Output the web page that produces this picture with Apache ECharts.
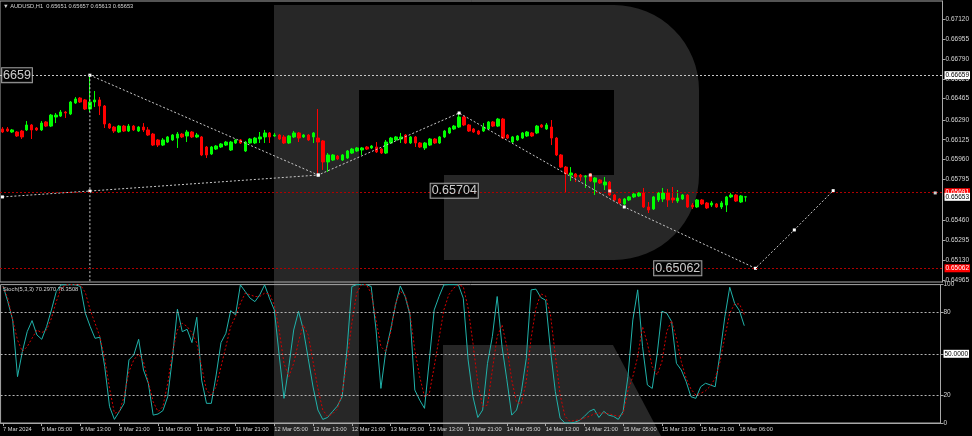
<!DOCTYPE html>
<html>
<head>
<meta charset="utf-8">
<script src="https://cdn.jsdelivr.net/npm/echarts@6/dist/echarts.min.js"></script>
<style>
html,body{margin:0;padding:0;background:#000;}
#chart{width:972px;height:436px;}
</style>
</head>
<body>
<div id="chart"></div>
<script>
// ---------- data ----------
const tickLabels = ['7 Mar 2024','8 Mar 05:00','8 Mar 13:00','8 Mar 21:00','11 Mar 05:00','11 Mar 13:00','11 Mar 21:00','12 Mar 05:00','12 Mar 13:00','12 Mar 21:00','13 Mar 05:00','13 Mar 13:00','13 Mar 21:00','14 Mar 05:00','14 Mar 13:00','14 Mar 21:00','15 Mar 05:00','15 Mar 13:00','15 Mar 21:00','18 Mar 06:00'];
const slotCount = 194;
const priceTicks = [0.64965,0.65130,0.65295,0.65460,0.65795,0.65960,0.66125,0.66290,0.66465,0.66625,0.66790,0.66955,0.67120];
const stochTicks = [0,20,50,80,100];

const opens = [0.66214,0.66214,0.66189,0.66189,0.66197,0.66206,0.66247,0.66222,0.66206,0.66272,0.66238,0.66313,0.66321,0.66354,0.66338,0.66429,0.66470,0.66454,0.66379,0.66437,0.66454,0.66404,0.66255,0.66230,0.66189,0.66238,0.66197,0.66238,0.66197,0.66230,0.66206,0.66172,0.66123,0.66081,0.66106,0.66123,0.66139,0.66172,0.66156,0.66189,0.66148,0.66148,0.66065,0.66007,0.66048,0.66065,0.66081,0.66040,0.66098,0.66123,0.66032,0.66098,0.66098,0.66131,0.66148,0.66181,0.66156,0.66164,0.66148,0.66098,0.66148,0.66181,0.66148,0.66164,0.66148,0.66139,0.66115,0.65941,0.65957,0.65990,0.65957,0.65974,0.66015,0.66032,0.66040,0.66065,0.66057,0.66065,0.66048,0.66015,0.66098,0.66123,0.66131,0.66164,0.66098,0.66148,0.66098,0.66057,0.66081,0.66131,0.66098,0.66148,0.66181,0.66214,0.66230,0.66313,0.66247,0.66214,0.66197,0.66197,0.66214,0.66272,0.66238,0.66296,0.66164,0.66106,0.66123,0.66139,0.66156,0.66181,0.66181,0.66247,0.66214,0.66230,0.66139,0.65999,0.65899,0.65833,0.65842,0.65833,0.65817,0.65842,0.65775,0.65792,0.65751,0.65775,0.65668,0.65635,0.65594,0.65627,0.65652,0.65660,0.65685,0.65569,0.65552,0.65627,0.65635,0.65685,0.65643,0.65618,0.65635,0.65668,0.65585,0.65569,0.65627,0.65602,0.65585,0.65594,0.65569,0.65585,0.65652,0.65668,0.65610,0.65651];
const closes = [0.66189,0.66197,0.66206,0.66156,0.66148,0.66247,0.66206,0.66206,0.66263,0.66238,0.66329,0.66329,0.66354,0.66346,0.66437,0.66462,0.66437,0.66379,0.66437,0.66454,0.66404,0.66255,0.66222,0.66197,0.66238,0.66197,0.66238,0.66206,0.66230,0.66206,0.66164,0.66081,0.66081,0.66123,0.66148,0.66164,0.66172,0.66148,0.66189,0.66148,0.66164,0.65999,0.65999,0.66065,0.66073,0.66090,0.66106,0.66106,0.66123,0.66098,0.66106,0.66131,0.66139,0.66148,0.66181,0.66148,0.66164,0.66131,0.66098,0.66156,0.66181,0.66139,0.66164,0.66123,0.66181,0.66106,0.65941,0.65999,0.65999,0.65966,0.65999,0.66032,0.66048,0.66057,0.66057,0.66048,0.66073,0.66024,0.66015,0.66106,0.66139,0.66148,0.66148,0.66098,0.66148,0.66098,0.66065,0.66098,0.66131,0.66098,0.66148,0.66197,0.66222,0.66238,0.66313,0.66247,0.66197,0.66189,0.66172,0.66230,0.66272,0.66238,0.66296,0.66139,0.66139,0.66148,0.66156,0.66181,0.66189,0.66156,0.66238,0.66230,0.66247,0.66139,0.65999,0.65899,0.65842,0.65850,0.65817,0.65817,0.65825,0.65784,0.65809,0.65767,0.65775,0.65668,0.65627,0.65602,0.65635,0.65652,0.65676,0.65685,0.65569,0.65544,0.65652,0.65685,0.65685,0.65627,0.65627,0.65643,0.65668,0.65569,0.65569,0.65627,0.65594,0.65561,0.65602,0.65569,0.65602,0.65652,0.65668,0.65618,0.65660,0.65653];
const lows = [0.66181,0.66189,0.66181,0.66148,0.66131,0.66197,0.66131,0.66197,0.66197,0.66230,0.66230,0.66263,0.66313,0.66305,0.66329,0.66421,0.66429,0.66371,0.66354,0.66396,0.66329,0.66222,0.66214,0.66181,0.66181,0.66189,0.66189,0.66197,0.66189,0.66189,0.66156,0.66073,0.66065,0.66073,0.66098,0.66115,0.66057,0.66139,0.66106,0.66139,0.66139,0.65990,0.65974,0.65999,0.66040,0.66057,0.66073,0.66032,0.66090,0.66090,0.66024,0.66090,0.66090,0.66098,0.66098,0.66098,0.66148,0.66123,0.66090,0.66090,0.66139,0.66106,0.66139,0.66115,0.66098,0.65833,0.65875,0.65858,0.65949,0.65957,0.65949,0.65966,0.66007,0.66024,0.65999,0.66040,0.66048,0.66015,0.66007,0.66007,0.66090,0.66115,0.66098,0.66090,0.66090,0.66065,0.66057,0.66040,0.66073,0.66090,0.66090,0.66139,0.66172,0.66206,0.66222,0.66238,0.66189,0.66181,0.66164,0.66189,0.66206,0.66230,0.66230,0.66131,0.66131,0.66098,0.66115,0.66131,0.66148,0.66148,0.66172,0.66222,0.66206,0.66081,0.65990,0.65891,0.65685,0.65784,0.65775,0.65784,0.65726,0.65775,0.65668,0.65759,0.65709,0.65660,0.65618,0.65594,0.65585,0.65618,0.65643,0.65652,0.65561,0.65519,0.65544,0.65610,0.65610,0.65569,0.65602,0.65602,0.65627,0.65561,0.65552,0.65561,0.65585,0.65552,0.65569,0.65561,0.65552,0.65527,0.65643,0.65610,0.65602,0.65613];
const highs = [0.66230,0.66230,0.66214,0.66197,0.66206,0.66280,0.66255,0.66230,0.66280,0.66280,0.66338,0.66346,0.66371,0.66363,0.66445,0.66478,0.66478,0.66462,0.66659,0.66528,0.66478,0.66412,0.66263,0.66238,0.66247,0.66247,0.66255,0.66247,0.66238,0.66263,0.66230,0.66181,0.66131,0.66139,0.66156,0.66172,0.66189,0.66181,0.66206,0.66197,0.66181,0.66156,0.66073,0.66073,0.66081,0.66098,0.66115,0.66115,0.66131,0.66131,0.66115,0.66139,0.66148,0.66189,0.66206,0.66189,0.66181,0.66172,0.66164,0.66164,0.66197,0.66189,0.66172,0.66172,0.66189,0.66379,0.66123,0.66015,0.66007,0.65999,0.66007,0.66040,0.66057,0.66065,0.66065,0.66073,0.66081,0.66106,0.66057,0.66123,0.66148,0.66156,0.66181,0.66172,0.66156,0.66156,0.66106,0.66106,0.66139,0.66139,0.66156,0.66206,0.66230,0.66247,0.66346,0.66321,0.66255,0.66222,0.66206,0.66263,0.66280,0.66280,0.66305,0.66305,0.66172,0.66156,0.66164,0.66189,0.66197,0.66189,0.66247,0.66255,0.66263,0.66288,0.66148,0.66007,0.65908,0.65899,0.65850,0.65842,0.65833,0.65850,0.65817,0.65800,0.65817,0.65784,0.65676,0.65643,0.65643,0.65660,0.65685,0.65693,0.65726,0.65610,0.65660,0.65693,0.65726,0.65718,0.65734,0.65709,0.65676,0.65676,0.65602,0.65635,0.65635,0.65610,0.65618,0.65602,0.65618,0.65660,0.65685,0.65676,0.65668,0.65657];

const stochK = [99,87.7,74.5,33.5,51.6,66,74,63.6,60.5,69.7,81.7,95,99.8,99.8,100,99.8,98.6,79.3,69.7,61.2,62,40.7,11.8,2.6,8.2,14.2,45.6,49.2,60.5,38.3,28.7,5.7,6.5,8.9,19,48,82.2,66,67.7,58.1,76.4,31,14.2,14.2,34.7,58.1,64.8,81.2,78.1,99.8,95,90.2,87.7,92.6,99.8,90.2,81.7,49.2,17.8,40.7,67.2,80.7,67.2,46.6,26,9.4,2.6,4,8.2,12.2,19,52.8,98.6,100,100,100,98.6,67.2,25,51.6,67.2,85,99,91.4,78.1,23.8,16.6,10.6,45.6,81.7,91.4,99.8,100,100,99.8,90.2,45.6,19,4,9.4,43.1,62.4,91.4,55.2,31.2,5.7,9.4,22.8,46.6,96.2,96.7,90.7,88.7,52.8,22.8,3.4,0,0,0.5,1.9,4.8,8.4,10,4,8.4,5.7,4.8,2.6,8.4,33.6,74.5,96.2,55.2,27.5,25,49.2,80.7,79.3,73.3,43.1,38.3,29.9,19,17.8,26.2,28.7,27.5,26.2,50.4,76.9,98.1,86.5,81.2,70.297];
const stochD = [98.6,90.2,74.5,60,51.6,55.2,61.2,67.2,65.3,67.2,75.7,87.7,97.4,99.8,100,100,99.8,94.2,81.7,72.1,62.4,46.7,25,7,8.2,19,37.1,45.6,49.9,44.3,29.9,15.4,8.2,11.8,28.7,51.6,67.2,72.1,69.7,65.3,57.7,40.7,23.8,20.2,26.2,40.7,55.2,69.7,76.9,86.5,93.8,92.6,91.4,91.4,93.8,93.3,85.3,67.2,43.1,33.5,43.1,58.8,70.9,63.6,44.3,25,9.4,4.8,6.5,10,21.4,44.3,72.1,93.8,100,100,93.8,74.5,55.2,51.6,65,86,95,92.6,79.3,52.8,33.5,19,21.4,40.7,61.2,81.7,92.6,97.4,99.8,98.6,83,57.7,28.7,11.8,13,38.3,62.4,70.9,55.2,31.2,14.9,13.9,29.9,61.2,83,93.3,91.8,78.1,49.2,20.2,4.8,1.2,1.7,2.4,3.6,4.8,6.5,7.2,7.2,6.7,5.7,4.8,6.5,23.8,33.5,48,69.7,57.7,40.7,34.7,44.3,66,74,61.2,44.3,32.4,24.5,20.2,21.4,23.3,26.7,32.4,44.3,62.4,79.3,86,86,78.3508];

// analysis lines (bar index, price)
const zigzagIdx   = [18, 65, 94, 128, 155, 163, 171];
const zigzagPrice = [0.66659, 0.65833, 0.66346, 0.65569, 0.65062, 0.65379, 0.65704];
const trendIdx    = [0, 18, 65];
const trendPrice  = [0.65652, 0.65701, 0.65833];
const vLineIdx    = [18, 18];
const vLinePrice  = [0.66659, 0.64950];
const markIdx     = [121, 125, 192];
const markPrice   = [0.65833, 0.65701, 0.65685];
const boxIdx      = [3, 93, 139];
const boxPrice    = [0.66659, 0.65704, 0.65062];
const boxText     = ['6659', '0.65704', '0.65062'];
const levelHigh = 0.66659, levelMid = 0.65691, levelLow = 0.65062, bidPrice = 0.65653;
const headerText = '\u25BC AUDUSD,H1  0.65651 0.65657 0.65613 0.65653';
const stochText = 'Stoch(5,3,3) 70.2970 78.3508';

// ---------- build ----------
const cats = Array.from({length: slotCount}, (_, i) => String(i));
const candleData = opens.map((o, i) => [o, closes[i], lows[i], highs[i]]);
const pairs = (a, b) => a.map((x, i) => [x, b[i]]);
const showTick = (idx) => idx % 8 === 0 && idx / 8 < tickLabels.length;
const FONT = 'Liberation Sans, DejaVu Sans, sans-serif';
const small = 6.5;
const tiny = 5.7;
const axisCol = '#a8a8a8';
const txtCol = '#d6d6d6';

// watermark "R" outline (decoration)
function arcPts(cx, cy, r, a0, a1, n) {
  const out = [];
  for (let k = 0; k <= n; k++) {
    const a = (a0 + (a1 - a0) * k / n) * Math.PI / 180;
    out.push([cx + r * Math.cos(a), cy + r * Math.sin(a)]);
  }
  return out;
}
const bowl = [[274,5],[614,5]]
  .concat(arcPts(614, 90, 85, -90, 0, 16))
  .concat(arcPts(614, 175, 85, 0, 90, 16))
  .concat([[444,260],[444,175],[614,175],[614,90],[359,90],[359,436],[274,436]]);
const leg = [[443,345],[613,345],[661,436],[443,436]];

const priceLabel = (bg, fg, txt) => ({show: true, position: 'end', distance: 2, backgroundColor: bg, color: fg,
  fontSize: small, padding: [1, 1, 0, 1], fontFamily: FONT, formatter: txt});

const chart = echarts.init(document.getElementById('chart'), null, {renderer: 'canvas'});
const option = {
  backgroundColor: '#000',
  animation: false,
  textStyle: {fontFamily: FONT},
  graphic: [
    {type: 'polygon', z: -100, silent: true, shape: {points: bowl}, style: {fill: '#272727'}},
    {type: 'polygon', z: -100, silent: true, shape: {points: leg}, style: {fill: '#272727'}}
  ],
  title: [
    {text: headerText, left: 3, top: 3, padding: 0, textStyle: {color: txtCol, fontSize: tiny, fontWeight: 'normal', fontFamily: FONT}},
    {text: stochText, left: 3, top: 286, padding: 0, textStyle: {color: txtCol, fontSize: tiny, fontWeight: 'normal', fontFamily: FONT}}
  ],
  grid: [
    {left: -0.94, right: 27.2, top: 1, height: 281, show: true, borderColor: axisCol, borderWidth: 1, backgroundColor: 'transparent'},
    {left: -0.94, right: 27.2, top: 284.6, height: 138.4, show: true, borderColor: axisCol, borderWidth: 1, backgroundColor: 'transparent'}
  ],
  xAxis: [
    {type: 'category', gridIndex: 0, data: cats, boundaryGap: true,
     axisLine: {show: false}, axisTick: {show: false}, axisLabel: {show: false}, splitLine: {show: false}},
    {type: 'category', gridIndex: 1, data: cats, boundaryGap: true,
     axisLine: {show: true, lineStyle: {color: axisCol}},
     axisTick: {show: true, alignWithLabel: true, interval: showTick, length: 3, lineStyle: {color: axisCol}},
     axisLabel: {interval: showTick, formatter: (v, idx) => tickLabels[idx / 8], align: 'left',
                 color: txtCol, fontSize: tiny, margin: 3, fontFamily: FONT},
     splitLine: {show: false}}
  ],
  yAxis: [
    {type: 'value', gridIndex: 0, position: 'right', min: 0.649485, max: 0.672723,
     axisLine: {show: true, lineStyle: {color: axisCol}},
     axisTick: {show: true, length: 3, customValues: priceTicks, lineStyle: {color: axisCol}},
     axisLabel: {customValues: priceTicks, formatter: v => v.toFixed(5), color: txtCol, fontSize: small, margin: 3, fontFamily: FONT},
     splitLine: {show: false}},
    {type: 'value', gridIndex: 1, position: 'right', min: 0, max: 100,
     axisLine: {show: true, lineStyle: {color: axisCol}},
     axisTick: {show: true, length: 3, customValues: stochTicks, lineStyle: {color: axisCol}},
     axisLabel: {customValues: stochTicks, color: txtCol, fontSize: small, margin: 3, fontFamily: FONT,
                 formatter: v => v === 50 ? '{w|50.0000}' : String(v),
                 rich: {w: {backgroundColor: '#fff', color: '#000', fontSize: small, padding: [1, 1, 0, 1], fontFamily: FONT}}},
     splitLine: {show: false}}
  ],
  series: [
    {type: 'candlestick', name: 'AUDUSD', xAxisIndex: 0, yAxisIndex: 0, data: candleData, barWidth: 3, z: 3,
     itemStyle: {color: '#00ff00', color0: '#ff0000', borderColor: '#00ff00', borderColor0: '#ff0000', borderWidth: 1}},
    {type: 'line', name: 'vline', xAxisIndex: 0, yAxisIndex: 0, data: pairs(vLineIdx, vLinePrice), z: 4,
     lineStyle: {color: '#c8c8c8', width: 1, type: [2, 2]}, symbol: 'none',
     markLine: {silent: true, symbol: ['none', 'none'], animation: false, precision: 5,
       label: {hideOverlap: false},
       data: [
         {yAxis: levelHigh, lineStyle: {color: '#c8c8c8', type: [2, 2], width: 1},
          label: priceLabel('#ffffff', '#000000', levelHigh.toFixed(5))},
         {yAxis: levelMid, lineStyle: {color: '#b00000', type: [2, 2], width: 1},
          label: priceLabel('#ff0000', '#ffffff', levelMid.toFixed(5))},
         {yAxis: levelLow, lineStyle: {color: '#b00000', type: [2, 2], width: 1},
          label: priceLabel('#ff0000', '#ffffff', levelLow.toFixed(5))}
       ]}},
    {type: 'line', name: 'bid', xAxisIndex: 0, yAxisIndex: 0, data: [], z: 5, symbol: 'none',
     markLine: {silent: true, symbol: ['none', 'none'], animation: false, precision: 5,
       data: [
         {yAxis: bidPrice, lineStyle: {color: 'rgba(0,0,0,0)', width: 0.01},
          label: priceLabel('#ffffff', '#000000', bidPrice.toFixed(5))}
       ]}},
    {type: 'line', name: 'zigzag', xAxisIndex: 0, yAxisIndex: 0, data: pairs(zigzagIdx, zigzagPrice), z: 4,
     lineStyle: {color: '#c8c8c8', width: 1, type: [2, 2]}, symbol: 'rect', symbolSize: 3, itemStyle: {color: '#ffffff'}},
    {type: 'line', name: 'trend', xAxisIndex: 0, yAxisIndex: 0, data: pairs(trendIdx, trendPrice), z: 4,
     lineStyle: {color: '#c8c8c8', width: 1, type: [2, 2]}, symbol: 'rect', symbolSize: 3, itemStyle: {color: '#ffffff'}},
    {type: 'scatter', name: 'marks', xAxisIndex: 0, yAxisIndex: 0, data: pairs(markIdx, markPrice), z: 5,
     symbol: 'rect', symbolSize: 3, itemStyle: {color: '#ffffff'}},
    {type: 'scatter', name: 'boxes', xAxisIndex: 0, yAxisIndex: 0, data: pairs(boxIdx, boxPrice), z: 6,
     symbolSize: 1, itemStyle: {color: 'rgba(0,0,0,0)'},
     label: {show: true, position: 'inside', formatter: p => boxText[p.dataIndex], color: '#fff', fontSize: 12.5, fontFamily: FONT,
             backgroundColor: '#000', borderColor: '#c8c8c8', borderWidth: 1, padding: [1, 1, 0, 1]}},
    {type: 'line', name: '%K', xAxisIndex: 1, yAxisIndex: 1, data: stochK, symbol: 'none',
     lineStyle: {color: '#20b2aa', width: 1},
     markLine: {silent: true, symbol: ['none', 'none'], label: {show: false}, precision: 2,
       lineStyle: {color: '#b4b4b4', type: [2, 2], width: 1},
       data: [{yAxis: 20}, {yAxis: 50}, {yAxis: 80}]}},
    {type: 'line', name: '%D', xAxisIndex: 1, yAxisIndex: 1, data: stochD, symbol: 'none',
     lineStyle: {color: '#d40000', width: 1, type: [2, 2]}}
  ]
};
chart.setOption(option);
</script>
</body>
</html>
